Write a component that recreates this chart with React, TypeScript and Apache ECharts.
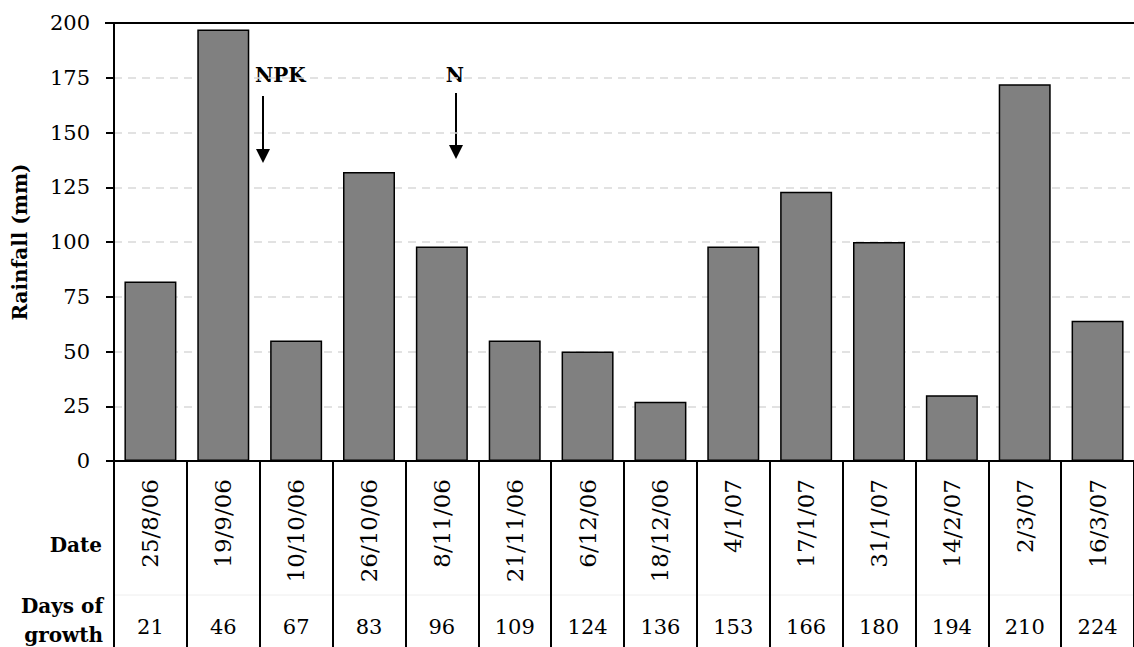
import React, { useEffect, useRef } from "react";
import * as echarts from "echarts";

const dates = ["25/8/06", "19/9/06", "10/10/06", "26/10/06", "8/11/06", "21/11/06", "6/12/06", "18/12/06", "4/1/07", "17/1/07", "31/1/07", "14/2/07", "2/3/07", "16/3/07"];
const days = ["21", "46", "67", "83", "96", "109", "124", "136", "153", "166", "180", "194", "210", "224"];
const rainfall = [82, 197, 55, 132, 98, 55, 50, 27, 98, 123, 100, 30, 172, 64];
const yTicks = { min: 0, max: 200, interval: 25 };

const FONT = "'DejaVu Serif', serif";

export default function App() {
  const ref = useRef<HTMLDivElement>(null);
  useEffect(() => {
    const chart = echarts.init(ref.current!, null, { renderer: "svg" });
    const arrow = (x: number, y1: number, y2: number) => [
      { type: "line", shape: { x1: x, y1, x2: x, y2: y2 - 12 }, style: { stroke: "#000", lineWidth: 2 } },
      { type: "polygon", shape: { points: [[x - 7, y2 - 14], [x + 7, y2 - 14], [x, y2]] }, style: { fill: "#000" } },
    ];
    chart.setOption({
      animation: false,
      backgroundColor: "#fff",
      grid: { left: 114, right: 0, top: 23, bottom: 186 },
      xAxis: [
        {
          type: "category",
          data: dates,
          position: "bottom",
          axisLine: { lineStyle: { color: "#000", width: 2 } },
          axisTick: { show: true, interval: 0, length: 186, lineStyle: { color: "#000", width: 2 } },
          axisLabel: { rotate: 90, interval: 0, margin: 18, fontSize: 23, color: "#000", fontFamily: FONT },
        },
        {
          type: "category",
          data: days,
          position: "bottom",
          offset: 150,
          axisLine: { show: false },
          axisTick: { show: false },
          axisLabel: { interval: 0, margin: 5, fontSize: 21, color: "#000", fontFamily: FONT },
        },
      ],
      yAxis: {
        type: "value",
        min: yTicks.min, max: yTicks.max, interval: yTicks.interval,
        name: "Rainfall (mm)",
        nameLocation: "middle",
        nameGap: 84,
        nameTextStyle: { fontSize: 20, fontWeight: "bold", color: "#000", fontFamily: FONT },
        axisLine: { show: true, lineStyle: { color: "#000", width: 2 } },
        axisTick: { show: true, length: 8, lineStyle: { color: "#000", width: 2 } },
        axisLabel: { margin: 24, fontSize: 21, color: "#000", fontFamily: FONT },
        splitLine: { show: true, lineStyle: { color: "#d9d9d9", type: [8, 6], width: 1.5 } },
      },
      series: [
        {
          type: "bar",
          data: rainfall,
          barWidth: 52,
          itemStyle: { color: "#808080", borderColor: "#000", borderWidth: 1.5 },
        },
      ],
      graphic: [
        { type: "line", z: 100, shape: { x1: 105, y1: 23, x2: 1134, y2: 23 }, style: { stroke: "#000", lineWidth: 2 } },
        { type: "line", shape: { x1: 114, y1: 595, x2: 1134, y2: 595 }, style: { stroke: "#eeeeee", lineWidth: 1 } },
        { type: "text", x: 102, y: 545, style: { text: "Date", font: `bold 20px ${FONT}`, fill: "#000", textAlign: "right", textVerticalAlign: "middle" } },
        { type: "text", x: 103, y: 606, style: { text: "Days of", font: `bold 20px ${FONT}`, fill: "#000", textAlign: "right", textVerticalAlign: "middle" } },
        { type: "text", x: 103, y: 635, style: { text: "growth", font: `bold 20px ${FONT}`, fill: "#000", textAlign: "right", textVerticalAlign: "middle" } },
        { type: "text", x: 255, y: 75, style: { text: "NPK", font: `bold 20px ${FONT}`, fill: "#000", textAlign: "left", textVerticalAlign: "middle" } },
        { type: "text", x: 455, y: 75, style: { text: "N", font: `bold 20px ${FONT}`, fill: "#000", textAlign: "center", textVerticalAlign: "middle" } },
        ...arrow(263, 96, 163),
        ...arrow(456, 93, 159),
      ],
    });
    return () => chart.dispose();
  }, []);
  return <div ref={ref} style={{ position: "fixed", left: 0, top: 0, width: 1134, height: 647 }} />;
}
